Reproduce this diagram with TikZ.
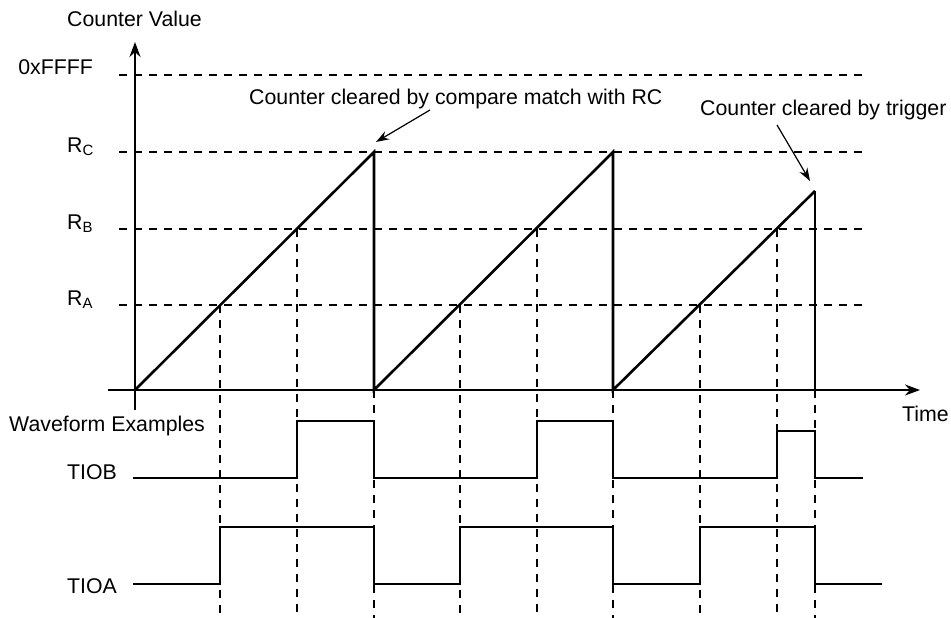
\documentclass[tikz,border=0pt]{standalone}
\usepackage{fontspec}
\setmainfont{Liberation Sans}
\usetikzlibrary{arrows.meta}
\tikzset{
	guide/.style={line width=1.3pt, dash pattern=on 8pt off 7pt},
	signal/.style={line width=2.6pt, line join=miter},
	axis/.style={line width=1.6pt, -{Stealth[length=15pt,width=11pt]}},
	callout/.style={line width=1.2pt, -{Stealth[length=13pt,width=9pt]}},
	txt/.style={font=\fontsize{21.3}{25}\selectfont, inner sep=0pt},
}
\begin{document}
\begin{tikzpicture}[x=1pt,y=-1pt]
	\useasboundingbox (0,0) rectangle (951,618);
	
	\coordinate (o1) at (135,390);
	\coordinate (o2) at (374,390);
	\coordinate (o3) at (613,390);
	\coordinate (c1) at (374,152);
	\coordinate (c2) at (613,152);
	\coordinate (t3) at (815,191);
	\coordinate (t3b) at (815,390);
	\coordinate (ytop) at (135,42);
	\coordinate (ybot) at (135,410);
	\coordinate (xleft) at (108,390);
	\coordinate (xright) at (920,390);
	
	\draw[guide] (119,75) -- (863,75);
	\draw[guide] (119,152) -- (863,152);
	\draw[guide] (119,229) -- (863,229);
	\draw[guide] (119,305) -- (863,305);
	
	\draw[guide] (220,305) -- (220,618);
	\draw[guide] (297,229) -- (297,618);
	\draw[guide] (374,390) -- (374,618);
	\draw[guide] (460,305) -- (460,618);
	\draw[guide] (537,229) -- (537,618);
	\draw[guide] (613,390) -- (613,618);
	\draw[guide] (700,305) -- (700,618);
	\draw[guide] (777,229) -- (777,618);
	\draw[guide] (815,390) -- (815,618);
	
	\draw[axis] (ybot) -- (ytop);
	\draw[axis] (xleft) -- (xright);
	
	\draw[signal] (o1) -- (c1) -- (o2) -- (c2) -- (o3) -- (t3);
	\draw[line width=1.5pt] (t3) -- (t3b);
	
	\draw[signal] (133,478) -- (297,478) -- (297,421) -- (374,421) -- (374,478) -- (537,478) -- (537,421) -- (613,421) -- (613,478) -- (777,478) -- (777,431) -- (815,431) -- (815,478) -- (863,478);
	\draw[signal] (133,584) -- (220,584) -- (220,527) -- (374,527) -- (374,584) -- (460,584) -- (460,527) -- (613,527) -- (613,584) -- (700,584) -- (700,527) -- (815,527) -- (815,584) -- (882,584);
	
	\node[txt, anchor=base west] (cv) at (67,27) {Counter Value};
	\node[txt, anchor=base east] (ffff) at (93,75) {0xFFFF};
	\node[txt, anchor=base west] (rc) at (67,152) {R\textsubscript{C}};
	\node[txt, anchor=base west] (rb) at (67,229) {R\textsubscript{B}};
	\node[txt, anchor=base west] (ra) at (67,305) {R\textsubscript{A}};
	\node[txt, anchor=base west] (time) at (902,421) {Time};
	\node[txt, anchor=base west] (wave) at (9,431) {Waveform Examples};
	\node[txt, anchor=base west] (tiob) at (67,479) {TIOB};
	\node[txt, anchor=base west] (tioa) at (67,593) {TIOA};
	\node[txt, anchor=base west] (match) at (249,105) {Counter cleared by compare match with RC};
	\node[txt, anchor=base west] (trig) at (700,115) {Counter cleared by trigger};
	
	\coordinate (m1) at (430,110);
	\coordinate (m2) at (376,142);
	\coordinate (g1) at (777,125);
	\coordinate (g2) at (810,181);
	\draw[callout] (m1) -- (m2);
	\draw[callout] (g1) -- (g2);
\end{tikzpicture}
\end{document}
